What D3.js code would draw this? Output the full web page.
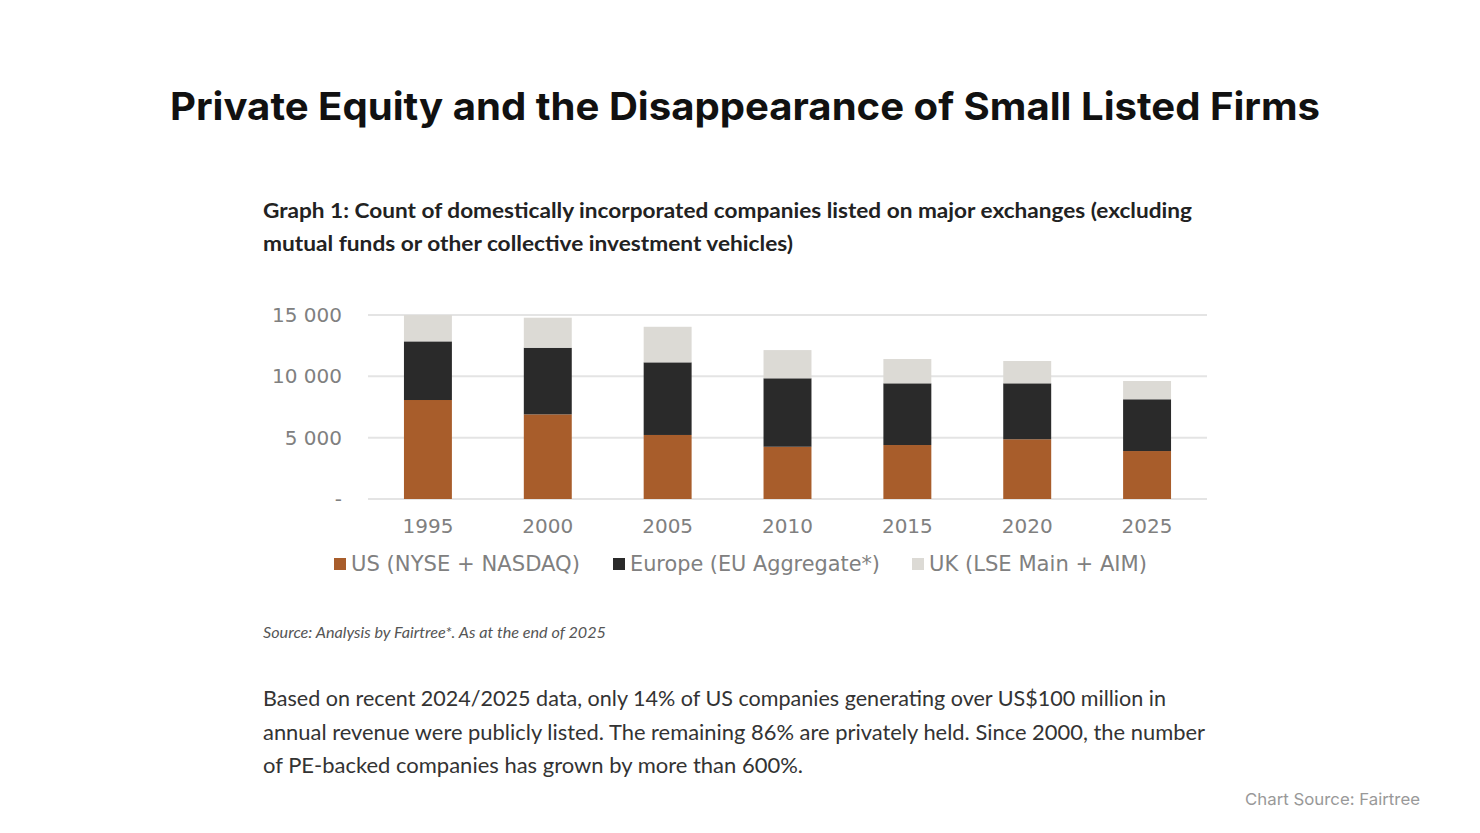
<!DOCTYPE html>
<meta charset="utf-8">
<script src="https://d3js.org/d3.v7.min.js"></script>
<style>
  body { margin: 0; background: #ffffff; }
  text { font-family: "DejaVu Sans", Verdana, sans-serif; }
</style>
<body>
<div id="my_dataviz"></div>
<script>

  // data
  var years = ["1995", "2000", "2005", "2010", "2015", "2020", "2025"]
  var us = [8070, 6900, 5220, 4260, 4400, 4870, 3910]
  var europe = [4780, 5430, 5920, 5580, 5030, 4560, 4220]
  var uk = [2150, 2450, 2900, 2300, 1980, 1820, 1490]
  var seriesNames = ["US (NYSE + NASDAQ)", "Europe (EU Aggregate*)", "UK (LSE Main + AIM)"]
  var yTicks = [0, 5000, 10000, 15000]

  var W = 1480, H = 833
  var margin = {left: 368, right: 273, top: 315, bottom: 334}

  var svg = d3.select("#my_dataviz")
    .append("svg")
      .attr("width", W)
      .attr("height", H)

  svg.append("rect").attr("width", W).attr("height", H).attr("fill", "#ffffff")

  // page title
  svg.append("text")
    .attr("x", 745).attr("y", 120)
    .attr("text-anchor", "middle")
    .attr("textLength", 1150)
    .attr("lengthAdjust", "spacingAndGlyphs")
    .style("font-family", "Inter, sans-serif")
    .style("font-weight", 700)
    .style("font-size", "38px")
    .style("fill", "#111")
    .text("Private Equity and the Disappearance of Small Listed Firms")

  // graph heading
  var head = ["Graph 1: Count of domestically incorporated companies listed on major exchanges (excluding",
              "mutual funds or other collective investment vehicles)"]
  var headLen = [929, 530]
  svg.selectAll(".head")
    .data(head)
    .enter().append("text")
      .attr("class", "head")
      .attr("x", 263)
      .attr("y", function(d, i) { return 218 + i * 33 })
      .attr("textLength", function(d, i) { return headLen[i] })
      .attr("lengthAdjust", "spacingAndGlyphs")
      .style("font-family", "Lato, sans-serif")
      .style("font-weight", 700)
      .style("font-size", "20px")
      .style("fill", "#222")
      .text(function(d) { return d })

  // stacked data
  var rows = years.map(function(y, i) {
    return {year: y, us: us[i], europe: europe[i], uk: uk[i]}
  })
  var keys = ["us", "europe", "uk"]
  var stacked = d3.stack().keys(keys)(rows)

  var x = d3.scaleBand()
    .domain(years)
    .range([margin.left, W - margin.right])
    .paddingInner(0.6)
    .paddingOuter(0.3)

  var y = d3.scaleLinear()
    .domain([0, 15000])
    .range([H - margin.bottom, margin.top])

  var color = d3.scaleOrdinal()
    .domain(keys)
    .range(["#a85d2b", "#2a2a2a", "#dcdad5"])

  // gridlines
  svg.append("g")
    .selectAll("line")
    .data(yTicks)
    .enter().append("line")
      .attr("x1", margin.left)
      .attr("x2", W - margin.right)
      .attr("y1", function(d) { return y(d) })
      .attr("y2", function(d) { return y(d) })
      .attr("stroke", "#e4e4e4")
      .attr("stroke-width", 2)

  // y axis labels
  var yAxis = d3.axisLeft(y)
    .tickValues(yTicks)
    .tickSize(0)
    .tickPadding(26)
    .tickFormat(function(d) { return d === 0 ? "-" : d3.format(",")(d).replace(",", " ") })
  svg.append("g")
    .attr("transform", "translate(" + margin.left + ",0)")
    .call(yAxis)
    .call(function(g) { g.select(".domain").remove() })
    .selectAll("text")
      .style("font-size", "20px")
      .style("fill", "#808080")
      .style("font-family", "DejaVu Sans, sans-serif")

  // bars
  svg.append("g")
    .selectAll("g")
    .data(stacked)
    .enter().append("g")
      .attr("fill", function(d) { return color(d.key) })
    .selectAll("rect")
    .data(function(d) { return d })
    .enter().append("rect")
      .attr("x", function(d) { return x(d.data.year) })
      .attr("y", function(d) { return y(d[1]) })
      .attr("height", function(d) { return y(d[0]) - y(d[1]) })
      .attr("width", x.bandwidth())

  // x axis labels
  var xAxis = d3.axisBottom(x).tickSize(0).tickPadding(20)
  svg.append("g")
    .attr("transform", "translate(0," + y(0) + ")")
    .call(xAxis)
    .call(function(g) { g.select(".domain").remove() })
    .selectAll("text")
      .style("font-size", "20px")
      .style("fill", "#808080")
      .style("font-family", "DejaVu Sans, sans-serif")

  // legend
  var legendX = [334, 613, 912]
  var legendLen = [229, 250, 218]
  var legend = svg.selectAll(".legend")
    .data(keys)
    .enter().append("g")
      .attr("class", "legend")
      .attr("transform", function(d, i) { return "translate(" + legendX[i] + ",564)" })

  legend.append("rect")
    .attr("x", 0).attr("y", -6)
    .attr("width", 12).attr("height", 12)
    .style("fill", color)

  legend.append("text")
    .attr("x", 17)
    .attr("dy", "0.36em")
    .attr("textLength", function(d, i) { return legendLen[i] })
    .attr("lengthAdjust", "spacingAndGlyphs")
    .style("font-size", "20.5px")
    .style("fill", "#808080")
    .text(function(d, i) { return seriesNames[i] })

  // source note
  svg.append("text")
    .attr("x", 263).attr("y", 638)
    .attr("textLength", 343)
    .attr("lengthAdjust", "spacingAndGlyphs")
    .style("font-family", "Lato, sans-serif")
    .style("font-style", "italic")
    .style("font-size", "15px")
    .style("fill", "#555")
    .text("Source: Analysis by Fairtree*. As at the end of 2025")

  // body paragraph
  var para = ["Based on recent 2024/2025 data, only 14% of US companies generating over US$100 million in",
              "annual revenue were publicly listed. The remaining 86% are privately held. Since 2000, the number",
              "of PE-backed companies has grown by more than 600%."]
  var paraLen = [903, 942, 540]
  svg.selectAll(".para")
    .data(para)
    .enter().append("text")
      .attr("class", "para")
      .attr("x", 263)
      .attr("y", function(d, i) { return 706 + i * 33.5 })
      .attr("textLength", function(d, i) { return paraLen[i] })
      .attr("lengthAdjust", "spacingAndGlyphs")
      .style("font-family", "Lato, sans-serif")
      .style("font-size", "20.5px")
      .style("fill", "#333")
      .text(function(d) { return d })

  svg.append("text")
    .attr("x", 1420).attr("y", 805)
    .attr("text-anchor", "end")
    .attr("textLength", 175)
    .attr("lengthAdjust", "spacingAndGlyphs")
    .style("font-family", "Inter, sans-serif")
    .style("font-size", "16.5px")
    .style("fill", "#999")
    .text("Chart Source: Fairtree")

</script>
</body>
</html>
